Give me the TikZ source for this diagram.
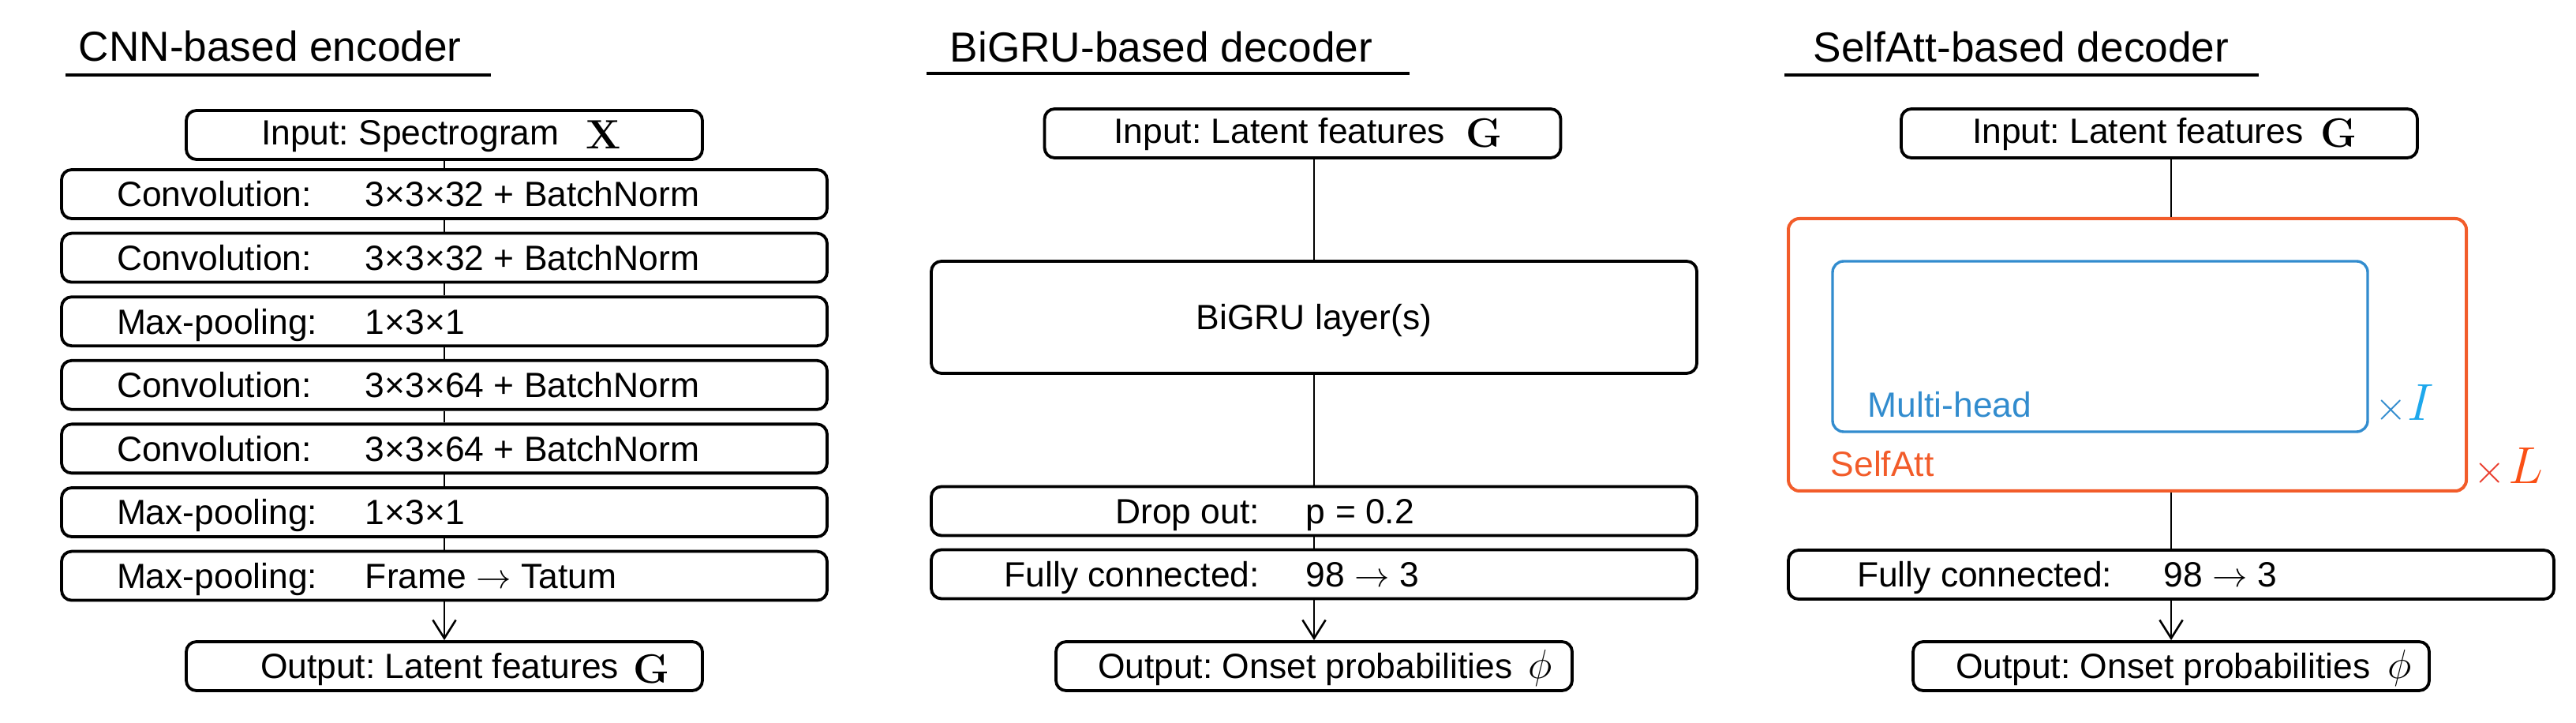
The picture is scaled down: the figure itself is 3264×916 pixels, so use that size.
\RequirePackage{fix-cm}
\documentclass[tikz,border=0pt]{standalone}
\usepackage[no-math]{fontspec}
\setmainfont{Liberation Sans}
\usetikzlibrary{arrows.meta}
\frenchspacing

\definecolor{saorange}{RGB}{242,92,42}
\definecolor{mhblue}{RGB}{50,140,206}
\definecolor{iblue}{RGB}{30,168,236}
\definecolor{lorange}{RGB}{250,80,22}
\definecolor{xred}{RGB}{234,62,46}

% text columns inside the boxes
\newcommand{\twocol}[4]{\makebox[242.5pt][l]{\hspace{#1}\makebox[#2][l]{#3}#4}}
\newcommand{\twocolr}[4]{\makebox[242.5pt][l]{\hspace{#1}\makebox[#2][r]{#3}\hspace{14.75pt}#4}}
\newcommand{\iotxt}[2]{\makebox[163.5pt][l]{\hspace{#1}#2}}
\newcommand{\iomath}[1]{{\fontsize{13}{13}\selectfont$#1$}}
\newcommand{\lowmath}[1]{\raisebox{-1.3pt}{\iomath{#1}}}

\tikzset{
	lbox/.style={draw, line width=0.95pt, rounded corners=3.2pt, inner xsep=0pt, inner ysep=2pt,
		minimum height=15.5pt, text height=8pt, text depth=0pt,
		font=\fontsize{11.1}{13}\selectfont},
	inbox/.style={lbox, text depth=1.8pt},
	outbox/.style={lbox},
	gru/.style={lbox, minimum width=242.5pt, minimum height=35.5pt},
	sabox/.style={draw=saorange, line width=1pt, rounded corners=3.5pt, inner sep=0pt,
		minimum width=214.75pt, minimum height=86.25pt},
	mhbox/.style={draw=mhblue, line width=0.85pt, rounded corners=3.5pt, inner sep=0pt,
		minimum width=169.5pt, minimum height=54pt},
	ttl/.style={anchor=base west, inner sep=0pt, font=\fontsize{13.3}{16}\selectfont},
	lbl/.style={anchor=base west, inner sep=0pt, font=\fontsize{11.1}{13}\selectfont},
	rep/.style={anchor=base west, inner sep=0pt},
	conn/.style={line width=0.65pt},
	arr/.style={conn, -{Straight Barb[length=5.8pt,width=7.3pt]}},
	uline/.style={line width=1pt},
}

\begin{document}
\begin{tikzpicture}[x=0.25pt,y=-0.25pt]
	\useasboundingbox (0,0) rectangle (3264,916);

	% CNN-based encoder
	\node[ttl] (tl) at (99,78) {CNN-based encoder};
	\draw[uline] (83,95.5) -- (622,95.5);

	\node[inbox] (inL) at (563,171) {\iotxt{23.75pt}{Input: Spectrogram\hspace{8.4pt}\lowmath{\mathbf{X}}}};
	\node[lbox] (cv1) at (563,246) {\twocol{17.5pt}{78.75pt}{Convolution:}{3×3×32 + BatchNorm}};
	\node[lbox] (cv2) at (563,326.6) {\twocol{17.5pt}{78.75pt}{Convolution:}{3×3×32 + BatchNorm}};
	\node[lbox] (mp1) at (563,407.2) {\twocol{17.5pt}{78.75pt}{Max-pooling:}{1×3×1}};
	\node[lbox] (cv3) at (563,487.8) {\twocol{17.5pt}{78.75pt}{Convolution:}{3×3×64 + BatchNorm}};
	\node[lbox] (cv4) at (563,568.4) {\twocol{17.5pt}{78.75pt}{Convolution:}{3×3×64 + BatchNorm}};
	\node[lbox] (mp2) at (563,649) {\twocol{17.5pt}{78.75pt}{Max-pooling:}{1×3×1}};
	\node[lbox] (mp3) at (563,729.6) {\twocol{17.5pt}{78.75pt}{Max-pooling:}{Frame $\rightarrow$ Tatum}};
	\node[outbox] (outL) at (563,844) {\iotxt{23.5pt}{Output: Latent features\hspace{4.5pt}\lowmath{\mathbf{G}}}};

	\draw[conn] (inL) -- (cv1);
	\draw[conn] (cv1) -- (cv2);
	\draw[conn] (cv2) -- (mp1);
	\draw[conn] (mp1) -- (cv3);
	\draw[conn] (cv3) -- (cv4);
	\draw[conn] (cv4) -- (mp2);
	\draw[conn] (mp2) -- (mp3);
	\draw[arr] (mp3) -- (outL);

	% BiGRU-based decoder
	\node[ttl] (tm) at (1203,79) {BiGRU-based decoder};
	\draw[uline] (1174,93.5) -- (1786,93.5);

	\node[inbox] (inM) at (1650.5,169) {\iotxt{22pt}{Input: Latent features\hspace{6.5pt}\lowmath{\mathbf{G}}}};
	\node[gru] (gru) at (1665,402) {BiGRU layer(s)};
	\node[lbox] (drop) at (1665,647.5) {\twocolr{16.5pt}{87.5pt}{Drop out:}{p = 0.2}};
	\node[lbox] (fcM) at (1665,727.5) {\twocolr{16.5pt}{87.5pt}{Fully connected:}{98 $\rightarrow$ 3}};
	\node[outbox] (outM) at (1665,844) {\iotxt{13.25pt}{Output: Onset probabilities\hspace{5pt}\iomath{\phi}}};

	\draw[conn] (gru.north |- inM.south) -- (gru.north);
	\draw[conn] (gru) -- (drop);
	\draw[conn] (drop) -- (fcM);
	\draw[arr] (fcM) -- (outM);

	% SelfAtt-based decoder
	\node[ttl] (tr) at (2297,79) {SelfAtt-based decoder};
	\draw[uline] (2261,95) -- (2862,95);

	\node[inbox] (inR) at (2736,169) {\iotxt{22.5pt}{Input: Latent features\hspace{5.5pt}\lowmath{\mathbf{G}}}};
	\node[sabox] (sa) at (2695.5,449.5) {};
	\node[mhbox] (mh) at (2661,439) {};
	\node[lbl, text=mhblue] (mhl) at (2366,529) {Multi-head};
	\node[lbl, text=saorange] (sal) at (2319,604) {SelfAtt};
	\node[rep] (xi) at (3009,533) {\textcolor{mhblue}{\iomath{\times}}\textcolor{iblue}{\fontsize{16.5}{16.5}\selectfont$I$}};
	\node[rep] (xl) at (3134,613) {\textcolor{xred}{\iomath{\times}}\hspace{0.8pt}\textcolor{lorange}{\fontsize{16.5}{16.5}\selectfont$L$}};
	\node[lbox] (fcR) at (2751,728) {\twocol{21.75pt}{97.25pt}{Fully connected:}{98 $\rightarrow$ 3}};
	\node[outbox] (outR) at (2751,844) {\iotxt{13.5pt}{Output: Onset probabilities\hspace{5.5pt}\iomath{\phi}}};

	\draw[conn] (fcR.north |- inR.south) -- (fcR.north |- sa.north);
	\draw[conn] (fcR.north |- sa.south) -- (fcR.north);
	\draw[arr] (fcR) -- (outR);
\end{tikzpicture}
\end{document}
